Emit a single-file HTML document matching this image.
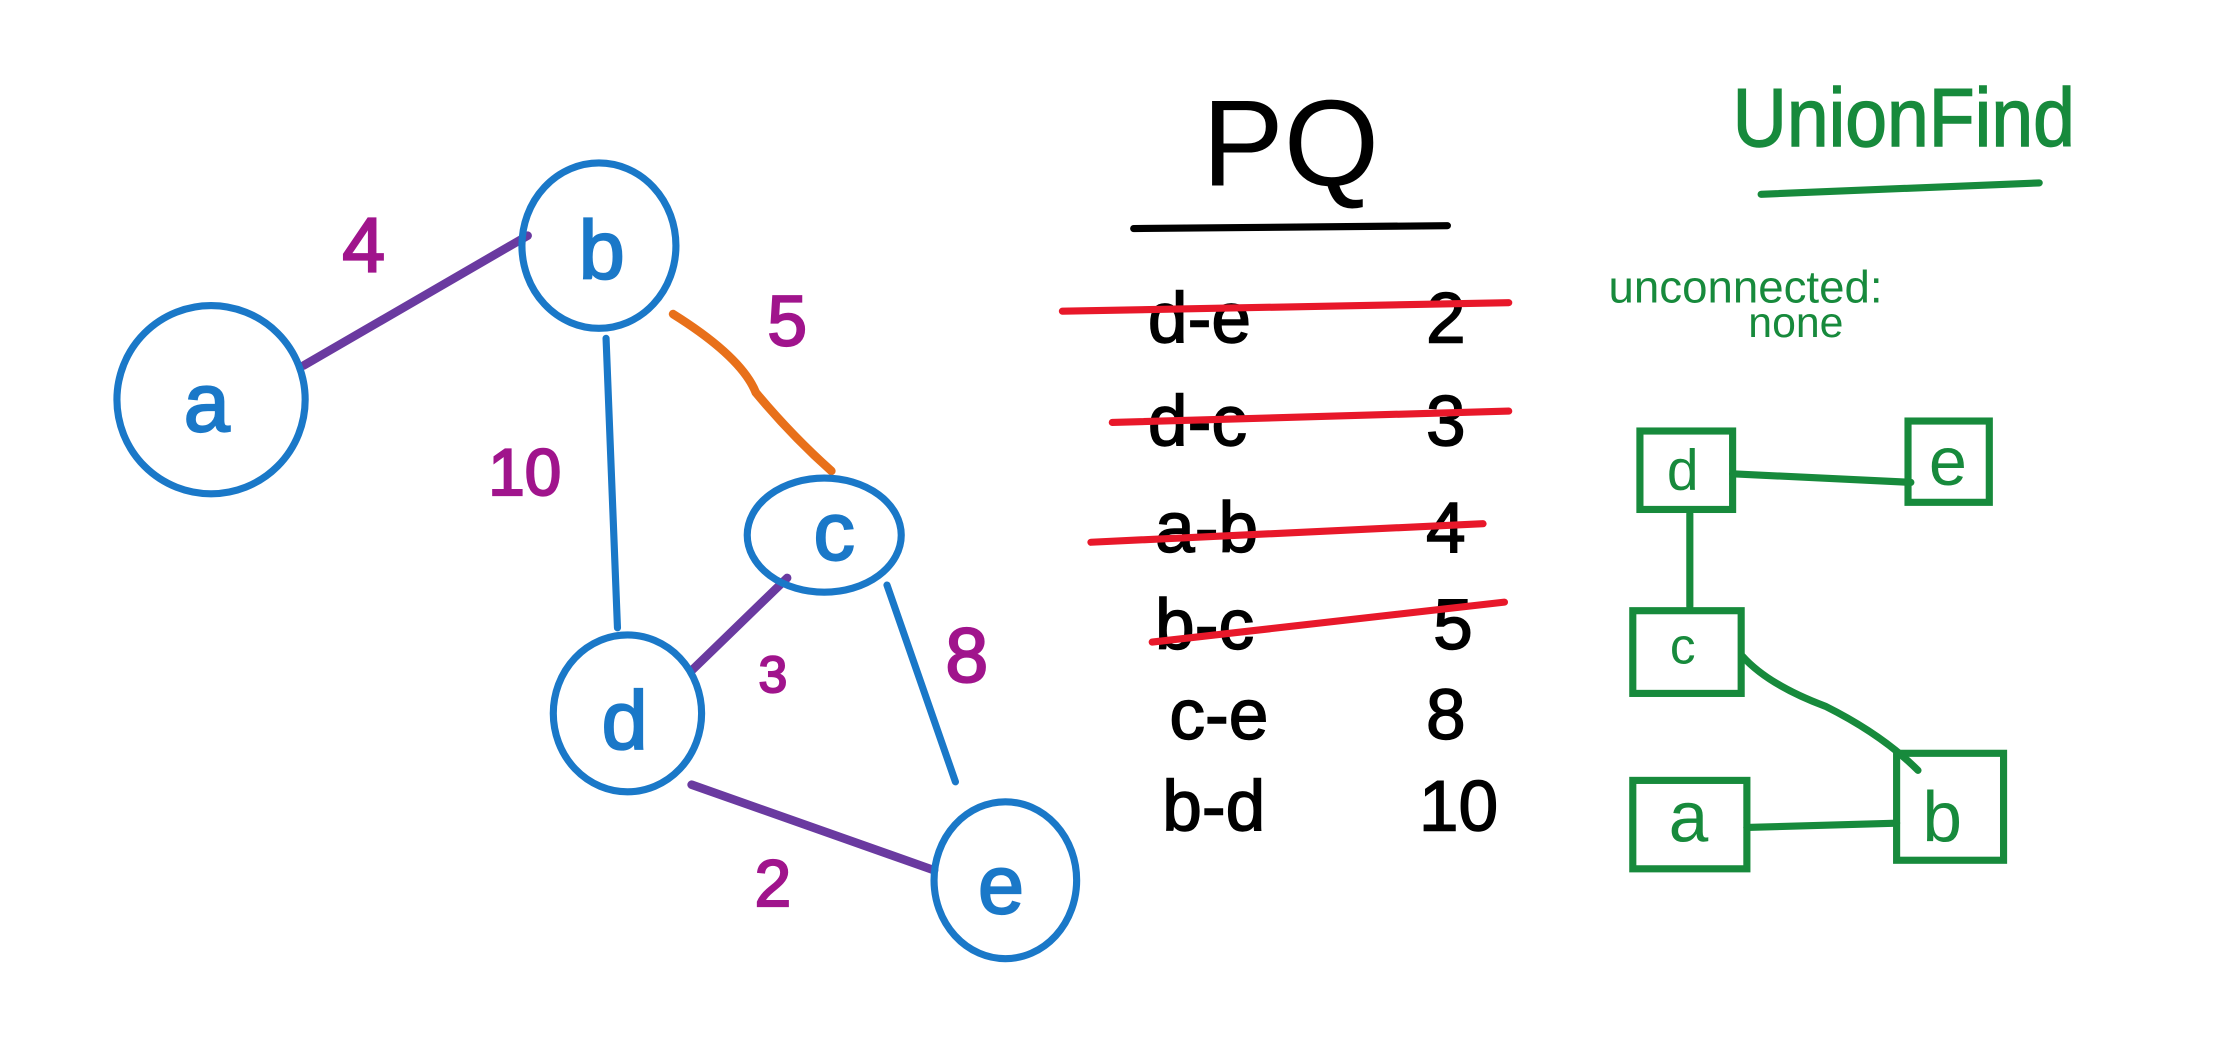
<!DOCTYPE html>
<html><head><meta charset="utf-8"><style>
html,body{margin:0;padding:0;background:#fff;}
svg{display:block}
text{font-family:"Liberation Sans",sans-serif;}
</style></head><body>
<svg width="2236" height="1046" viewBox="0 0 1568 733">
<rect width="1568" height="733" fill="#fff"/>
<g fill="none" stroke-linecap="round">
  <line x1="213" y1="256" x2="370" y2="165" stroke="#6a3aa0" stroke-width="6"/>
  <line x1="425" y1="237" x2="433" y2="440" stroke="#1a78c8" stroke-width="5"/>
  <path d="M472 220 Q520 250 530 275 Q555 305 583 330" stroke="#e8701a" stroke-width="6"/>
  <line x1="552" y1="405" x2="485" y2="470" stroke="#6a3aa0" stroke-width="6"/>
  <line x1="622" y1="410" x2="670" y2="548" stroke="#1a78c8" stroke-width="5"/>
  <line x1="485" y1="550" x2="655" y2="610" stroke="#6a3aa0" stroke-width="6"/>
  <g stroke="#1a78c8" stroke-width="5">
    <ellipse cx="148" cy="280" rx="66" ry="66"/>
    <ellipse cx="420" cy="172" rx="54" ry="58"/>
    <ellipse cx="578" cy="375" rx="54" ry="40"/>
    <ellipse cx="440" cy="500" rx="52" ry="55"/>
    <ellipse cx="705" cy="617" rx="50" ry="55"/>
  </g>
</g>
<g fill="#1a78c8" font-size="58" text-anchor="middle" stroke="#1a78c8" stroke-width="1.5">
  <text x="145" y="302">a</text>
  <text x="422" y="195">b</text>
  <text x="585" y="392">c</text>
  <text x="438" y="525">d</text>
  <text x="702" y="640">e</text>
</g>
<g fill="#a0148c" text-anchor="middle" stroke="#a0148c" stroke-width="1.5">
  <text x="255" y="190" font-size="54">4</text>
  <text x="552" y="242" font-size="50">5</text>
  <text x="368" y="347" font-size="46">10</text>
  <text x="678" y="478" font-size="54">8</text>
  <text x="542" y="485" font-size="36">3</text>
  <text x="542" y="635" font-size="46">2</text>
</g>
<g>
  <text x="905" y="130" font-size="86" text-anchor="middle" fill="#000">PQ</text>
  <line x1="795" y1="160" x2="1015" y2="158" stroke="#000" stroke-width="5" stroke-linecap="round"/>
  <g font-size="50" fill="#000" stroke="#000" stroke-width="1">
    <text x="805" y="240">d-e</text><text x="1000" y="240">2</text>
    <text x="805" y="312">d-c</text><text x="1000" y="312">3</text>
    <text x="810" y="387">a-b</text><text x="1000" y="387">4</text>
    <text x="810" y="455">b-c</text><text x="1005" y="455">5</text>
    <text x="820" y="518">c-e</text><text x="1000" y="518">8</text>
    <text x="815" y="582">b-d</text><text x="995" y="582">10</text>
  </g>
  <g stroke="#e8182a" stroke-width="5" stroke-linecap="round">
    <line x1="745" y1="218" x2="1058" y2="212"/>
    <line x1="780" y1="296" x2="1058" y2="288"/>
    <line x1="765" y1="380" x2="1040" y2="367"/>
    <line x1="808" y1="450" x2="1055" y2="422"/>
  </g>
</g>
<g fill="none" stroke="#178a3c" stroke-width="5" stroke-linecap="round">
  <text x="1215" y="102" font-size="58" textLength="240" lengthAdjust="spacingAndGlyphs" fill="#178a3c" stroke="#178a3c" stroke-width="1">UnionFind</text>
  <line x1="1235" y1="136" x2="1430" y2="128"/>
  <text x="1128" y="212" font-size="32" fill="#178a3c" stroke="none">unconnected:</text>
  <text x="1226" y="236" font-size="30" fill="#178a3c" stroke="none">none</text>
  <line x1="1215" y1="332" x2="1340" y2="338"/>
  <line x1="1185" y1="360" x2="1185" y2="425"/>
  <path d="M1222 460 Q1240 480 1280 495 Q1320 515 1345 540"/>
  <line x1="1225" y1="580" x2="1330" y2="577"/>
  <rect x="1150" y="302" width="65" height="55"/>
  <rect x="1338" y="295" width="57" height="57"/>
  <rect x="1145" y="428" width="76" height="58"/>
  <rect x="1145" y="547" width="80" height="62"/>
  <rect x="1330" y="528" width="75" height="75"/>
  <g fill="#178a3c" stroke="none" text-anchor="middle">
    <text x="1180" y="343" font-size="40">d</text>
    <text x="1366" y="340" font-size="48">e</text>
    <text x="1180" y="465" font-size="36">c</text>
    <text x="1184" y="590" font-size="50">a</text>
    <text x="1362" y="590" font-size="50">b</text>
  </g>
</g>
</svg>
</body></html>
